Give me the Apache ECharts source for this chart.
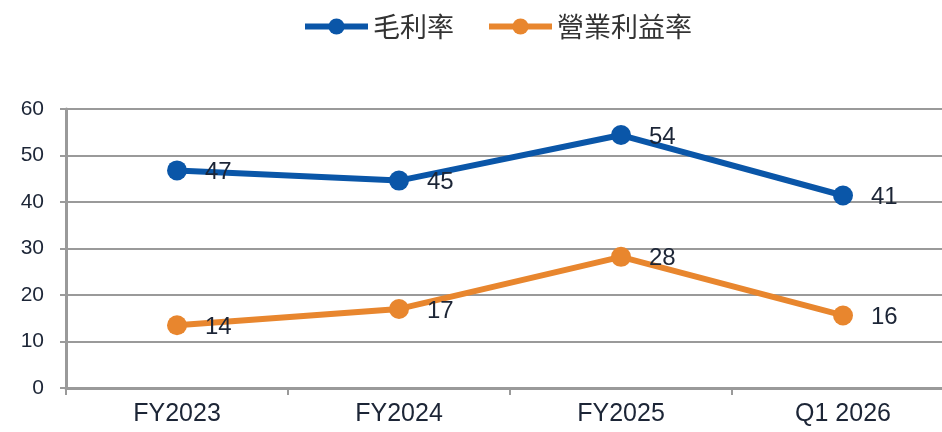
<html>
<head>
    <meta http-equiv="Content-Type" content="text/html; charset=utf-8" />
    <title>毛利率 / 營業利益率</title>
    <script src="https://cdn.jsdelivr.net/npm/echarts@6/dist/echarts.min.js"></script>
    <style>
        html, body { margin: 0; padding: 0; background: #fff; }
    </style>
</head>
<body>
    <div id="main" style="width:942px;height:432px"></div>

    <script type="text/javascript">
        var categories = ['FY2023', 'FY2024', 'FY2025', 'Q1 2026'];
        var grossMargin = [46.8, 44.6, 54.4, 41.4];
        var operatingMargin = [13.5, 17.0, 28.2, 15.6];
        var yTicks = { min: 0, max: 60, interval: 10 };

        var textColor = '#1c2536';
        var axisGrey = '#9a9a9a';
        var latin = 'Liberation Sans, Arial, sans-serif';

        function makeSeries(name, data, color) {
            return {
                name: name,
                type: 'line',
                data: data,
                symbol: 'circle',
                symbolSize: 20,
                lineStyle: { width: 6, color: color },
                itemStyle: { color: color },
                label: {
                    show: true,
                    position: 'right',
                    distance: 18,
                    offset: [0, 2],
                    color: textColor,
                    fontSize: 24,
                    fontFamily: latin,
                    formatter: function (p) { return Math.round(p.value); }
                },
                z: 3
            };
        }

        var option = {
            animation: false,
            legend: {
                top: 8,
                left: 297,
                itemWidth: 63,
                itemHeight: 20,
                itemGap: 32,
                lineStyle: { width: 6 },
                textStyle: {
                    color: '#333',
                    fontSize: 27,
                    fontFamily: 'Noto Sans CJK TC, Noto Sans CJK SC, sans-serif'
                },
                data: ['毛利率', '營業利益率']
            },
            // the last category runs past the right edge of the picture
            grid: {
                left: 66,
                width: 888,
                top: 109,
                bottom: 44,
                containLabel: false,
                outerBoundsMode: 'none'
            },
            xAxis: {
                type: 'category',
                data: categories,
                axisLine: { lineStyle: { color: axisGrey, width: 3 } },
                axisTick: { show: true, length: 7, lineStyle: { color: axisGrey, width: 2 } },
                axisLabel: {
                    color: textColor,
                    fontSize: 25,
                    margin: 14,
                    fontFamily: latin
                }
            },
            yAxis: {
                type: 'value',
                min: yTicks.min,
                max: yTicks.max,
                interval: yTicks.interval,
                axisLine: { show: true, lineStyle: { color: axisGrey, width: 3 } },
                axisTick: { show: true, length: 6, lineStyle: { color: axisGrey, width: 2 } },
                splitLine: { lineStyle: { color: axisGrey, width: 2 } },
                axisLabel: {
                    color: textColor,
                    fontSize: 21,
                    margin: 22,
                    fontFamily: latin
                }
            },
            series: [
                makeSeries('毛利率', grossMargin, '#0a56a8'),
                makeSeries('營業利益率', operatingMargin, '#e8862e')
            ]
        };

        var myChart = echarts.init(document.getElementById('main'));
        myChart.setOption(option);
    </script>
</body>
</html>
